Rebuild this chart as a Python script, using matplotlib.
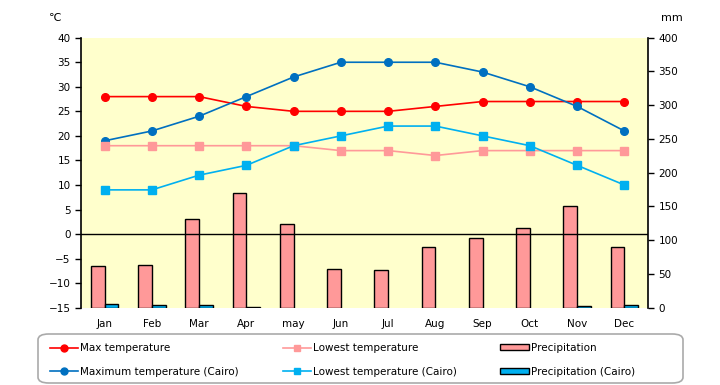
import matplotlib
matplotlib.use("Agg")
import matplotlib.pyplot as plt
import numpy as np
from matplotlib.patches import Patch, FancyBboxPatch
from matplotlib.lines import Line2D

months = ["Jan", "Feb", "Mar", "Apr", "may", "Jun", "Jul", "Aug", "Sep", "Oct", "Nov", "Dec"]
max_temp = [28, 28, 28, 26, 25, 25, 25, 26, 27, 27, 27, 27]
low_temp = [18, 18, 18, 18, 18, 17, 17, 16, 17, 17, 17, 17]
precip = [62, 64, 132, 170, 124, 58, 56, 90, 103, 118, 150, 90]
cairo_max = [19, 21, 24, 28, 32, 35, 35, 35, 33, 30, 26, 21]
cairo_low = [9, 9, 12, 14, 18, 20, 22, 22, 20, 18, 14, 10]
cairo_precip = [5.5, 3.5, 3.5, 1, 0, 0, 0, 0, 0, 0, 2, 4.5]
temp_ticks = list(range(-15, 41, 5))
precip_ticks = list(range(0, 401, 50))

plt.rcParams['font.family'] = ['DejaVu Sans']
fig = plt.figure(figsize=(7.2, 3.85), dpi=100)
ax = fig.add_axes([81/720, 1-307.7/385, (648-81)/720, 270/385])
ax2 = ax.twinx()
ax.set_zorder(ax2.get_zorder() + 1)
ax.patch.set_visible(False)
ax2.patch.set_visible(True)
ax2.patch.set_facecolor("#FFFFCC")

x = np.arange(len(months))
w = 0.29
ax2.bar(x, precip, width=-w, align='edge', color="#FF9999", edgecolor="black", linewidth=1, zorder=2)
cb = ax2.bar(x, cairo_precip, width=w, align='edge', color="#00B0F0", edgecolor="black", linewidth=1, zorder=2)
for rect, v in zip(cb, cairo_precip):
    if v == 0:
        rect.set_visible(False)
ax2.set_ylim(0, 400)
ax2.set_yticks(precip_ticks)

ax.axhline(0, color="black", linewidth=1, zorder=1)
ms = 5.5
ax.plot(x, max_temp, color="#FF0000", marker="o", markersize=ms, linewidth=1.2)
ax.plot(x, cairo_max, color="#0070C0", marker="o", markersize=ms, linewidth=1.2)
ax.plot(x, low_temp, color="#FF9999", marker="s", markersize=ms, linewidth=1.2)
ax.plot(x, cairo_low, color="#00B0F0", marker="s", markersize=ms, linewidth=1.2)
ax.set_ylim(-15, 40)
ax.set_yticks(temp_ticks)
ax.set_xlim(-0.5, 11.5)
ax.set_xticks(x)
ax.set_xticklabels(months)

for a in (ax, ax2):
    a.spines['top'].set_visible(False)
    a.spines['bottom'].set_visible(False)
    a.tick_params(axis='both', labelsize=7.5, length=4, width=1, direction='out')
    a.tick_params(axis='x', length=0, pad=8)
ax.spines['left'].set_linewidth(1.2)
ax2.spines['right'].set_linewidth(1.2)
ax.spines['right'].set_visible(False)
ax2.spines['left'].set_visible(False)

fig.text(55/720, 1-18/385, "℃", fontsize=8, ha='center', va='center')
fig.text(672/720, 1-18/385, "mm", fontsize=8, ha='center', va='center')

# legend frame
frame = FancyBboxPatch((38/720, 1-383/385), (683-38)/720, 49/385,
                       boxstyle="round,pad=0,rounding_size=0.015",
                       transform=fig.transFigure, facecolor="white",
                       edgecolor="#AAAAAA", linewidth=1.2)
fig.patches.append(frame)

handles = [
    Line2D([], [], color="#FF0000", marker="o", markersize=5, linewidth=1.2),
    Line2D([], [], color="#0070C0", marker="o", markersize=5, linewidth=1.2),
    Line2D([], [], color="#FF9999", marker="s", markersize=5, linewidth=1.2),
    Line2D([], [], color="#00B0F0", marker="s", markersize=5, linewidth=1.2),
    Patch(facecolor="#FF9999", edgecolor="black", linewidth=1),
    Patch(facecolor="#00B0F0", edgecolor="black", linewidth=1),
]
labels = ["Max temperature", "Maximum temperature (Cairo)", "Lowest temperature",
          "Lowest temperature (Cairo)", "Precipitation", "Precipitation (Cairo)"]
leg = fig.legend(handles, labels, ncol=3, loc='upper left',
                 bbox_to_anchor=(50/720, 1-343/385),
                 fontsize=7.5, frameon=False,
                 handlelength=2.7, handletextpad=0.2,
                 borderpad=0, borderaxespad=0, labelspacing=1.3,
                 columnspacing=4.2, handleheight=0.5)

fig.savefig("out.png", dpi=100)
